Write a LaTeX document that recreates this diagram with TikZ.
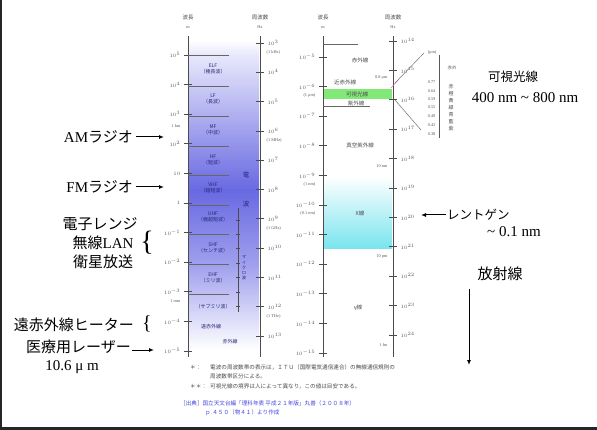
\documentclass[tikz,border=0pt]{standalone}
\usepackage{fontspec}
\setmainfont{Liberation Serif}
\newfontfamily\jp{Noto Sans CJK JP}
\usetikzlibrary{arrows.meta}
\definecolor{bandblue}{RGB}{40,40,120}
\definecolor{bluedark}{RGB}{105,105,226}
\definecolor{bluemid}{RGB}{160,160,238}
\definecolor{bluelight}{RGB}{232,232,252}
\definecolor{cyanC}{RGB}{20,218,232}
\definecolor{cyanB}{RGB}{120,228,238}
\definecolor{greenband}{RGB}{130,232,120}
\definecolor{footblue}{RGB}{70,70,225}
\begin{document}
\begin{tikzpicture}[x=1pt,y=-1pt,
  tk/.style={font=\fontsize{4.3}{5}\selectfont, text=black!65, inner sep=0.5pt},
  tkj/.style={font=\jp\fontsize{4.3}{5}\selectfont, text=black!65, inner sep=0.5pt},
  hdr/.style={font=\jp\fontsize{5.5}{6}\selectfont, text=black!70, inner sep=0},
  axisline/.style={line width=1pt, draw=black!70},
  tick/.style={line width=0.6pt, draw=black!70},
  sep/.style={line width=0.5pt, draw=black!60},
  band/.style={font=\jp\fontsize{5}{6}\selectfont, text=bandblue, inner sep=0, align=center},
  rband/.style={font=\jp\fontsize{5.5}{6}\selectfont, text=black!70, inner sep=0},
  lab/.style={font=\fontsize{15}{17}\selectfont, inner sep=1pt},
  rlab/.style={font=\fontsize{12.5}{15}\selectfont, inner sep=1pt},
  rlat/.style={font=\fontsize{15}{17}\selectfont, inner sep=1pt},
  arr/.style={-{Latex[length=5pt,width=4pt]}, line width=1pt},
  foot/.style={font=\jp\fontsize{5.6}{6}\selectfont, text=black!70, inner sep=0, anchor=west},
  footb/.style={font=\jp\fontsize{5.6}{6}\selectfont, text=footblue, inner sep=0, anchor=west}]
\useasboundingbox (0,0) rectangle (597,430);
\fill[white] (0,0) rectangle (597,430);
% frame
\draw[line width=1.5pt, black!85] (0.75,0) -- (0.75,430);
\draw[line width=3pt, black!85] (0,428.5) -- (597,428.5);

% ---------- left column: radio waves ----------
\shade[top color=white, bottom color=bluelight] (189,40) rectangle (259,55);
\shade[top color=bluelight, bottom color=bluedark] (189,55) rectangle (259,190);
\shade[top color=bluedark, bottom color=bluemid] (189,190) rectangle (259,265);
\shade[top color=bluemid, bottom color=white] (189,265) rectangle (259,350);

\node[hdr] (h1) at (188,17) {波長};
\node[tk] (h1u) at (188,27) {m};
\node[hdr] (h2) at (260,17) {周波数};
\node[tk] (h2u) at (260,27) {Hz};
\draw[axisline] (188,36) -- (188,357);
\draw[axisline] (260,36) -- (260,357);

\foreach \e [count=\i from 0] in {10^{5},10^{4},10^{3},10^{2},10,1,10^{-1},10^{-2},10^{-3},10^{-4},10^{-5}}{
  \draw[tick] (184,55+29.6*\i) -- (192,55+29.6*\i);
  \node[tk, anchor=east] at (181,55+29.6*\i) {$\e$};
}
\node[tk, anchor=east] at (181,126) {1 km};
\node[tk, anchor=east] at (181,301) {1 mm};
\foreach \e [count=\i from 0] in {10^{3},10^{4},10^{5},10^{6},10^{7},10^{8},10^{9},10^{10},10^{11},10^{12},10^{13}}{
  \draw[tick] (256,43+29.3*\i) -- (264,43+29.3*\i);
  \node[tk, anchor=west] at (267,43+29.3*\i) {$\e$};
}
\node[tk, anchor=west] at (266,52) {(1 kHz)};
\node[tk, anchor=west] at (266,140) {(1 MHz)};
\node[tk, anchor=west] at (266,228) {(1 GHz)};
\node[tk, anchor=west] at (266,316) {(1 THz)};

\foreach \y in {55,86.6,116.2,145.8,175.4,205,234.6,264.2,293.8}{
  \draw[sep] (188,\y) -- (229,\y);
}
\node[band] (elf) at (213,69) {ELF\\（極長波）};
\node[band] (lf) at (213,99) {LF\\（長波）};
\node[band] (mf) at (213,130) {MF\\（中波）};
\node[band] (hf) at (213,160) {HF\\（短波）};
\node[band] (vhf) at (213,188) {VHF\\（超短波）};
\node[band] (uhf) at (213,217) {UHF\\（極超短波）};
\node[band] (shf) at (213,248) {SHF\\（センチ波）};
\node[band] (ehf) at (213,278) {EHF\\（ミリ波）};
\node[band] (smm) at (213,307) {（サブミリ波）};
\node[band] (fir) at (211,327) {遠赤外線};
\node[band] (ir) at (230,342) {赤外線};
\node[font=\jp\fontsize{6.5}{7}\selectfont, text=bandblue, inner sep=0] (den) at (246,175) {電};
\node[font=\jp\fontsize{6.5}{7}\selectfont, text=bandblue, inner sep=0] (pa) at (246,204) {波};
\draw[line width=0.6pt, black!70] (238,208) -- (238,312);
\foreach \y in {220,234,248,263,277,292,306}{\draw[line width=0.5pt, black!70] (236,\y) -- (240,\y);}
\node[font=\jp\fontsize{4.3}{5.2}\selectfont, text=bandblue, inner sep=0, align=center] (mw) at (244,268) {マ\\イ\\ク\\ロ\\波};

% ---------- right column: light, X-rays ----------
\shade[top color=white, middle color=cyanC, bottom color=cyanB] (324,176) rectangle (392,249);
\fill[greenband] (324,89) rectangle (392,99);

\node[hdr] (h3) at (323,17) {波長};
\node[tk] (h3u) at (323,27) {m};
\node[hdr] (h4) at (393,17) {周波数};
\node[tk] (h4u) at (393,27) {Hz};
\draw[axisline] (323,36) -- (323,357);
\draw[axisline] (393,36) -- (393,357);

\foreach \e [count=\i from 0] in {10^{-5},10^{-6},10^{-7},10^{-8},10^{-9},10^{-10},10^{-11},10^{-12},10^{-13},10^{-14},10^{-15}}{
  \draw[tick] (319,57+29.6*\i) -- (327,57+29.6*\i);
  \node[tk, anchor=east] at (316,57+29.6*\i) {$\e$};
}
\node[tk, anchor=east] at (316,95) {(1 μm)};
\node[tk, anchor=east] at (316,184) {(1 nm)};
\node[tk, anchor=east] at (316,213) {(0.1 nm)};
\foreach \e [count=\i from 0] in {10^{14},10^{15},10^{16},10^{17},10^{18},10^{19},10^{20},10^{21},10^{22},10^{23},10^{24}}{
  \draw[tick] (389,41+29.4*\i) -- (397,41+29.4*\i);
  \node[tk, anchor=west] at (400,41+29.4*\i) {$\e$};
}
\draw[sep] (323,44) -- (358,44);
\draw[sep] (323,106) -- (370,106);
\node[rband] (irr) at (360,60) {赤外線};
\node[rband] (nir) at (345,82) {近赤外線};
\node[rband] (vis) at (357,94) {可視光線};
\node[rband] (uv) at (356,103) {紫外線};
\node[rband] (vuv) at (360,145) {真空紫外線};
\node[rband] (xr) at (360,213) {X線};
\node[rband] (gam) at (358,308) {γ線};
\node[tk, anchor=east] at (388,78) {0.8 μm};
\node[tk, anchor=east] at (388,166) {10 nm};
\node[tk, anchor=east] at (388,257) {10 pm};
\node[tk, anchor=east] at (388,345) {1 fm};
\draw[magenta!60, line width=0.5pt] (391,88) -- (399,79);

% visible spectrum inset
\draw[black!55, line width=0.5pt] (395,83) -- (424,53);
\draw[black!55, line width=0.5pt] (395,100) -- (421,130);
\draw[black!65, line width=0.7pt] (439,55) -- (439,138);
\node[tk, anchor=east] at (437,52) {(μm)};
\foreach \v/\y in {0.77/82,0.64/91,0.59/99,0.55/107,0.49/116,0.43/125,0.38/134}{
  \node[tk, anchor=east] at (436,\y) {\v};
}
\node[tkj, anchor=west] at (447,68) {赤外};
\foreach \c/\y in {赤/87,橙/94,黄/101,緑/108,青/115,藍/122,紫/129}{
  \node[font=\jp\fontsize{5}{5}\selectfont, text=black!70, inner sep=0] at (451,\y) {\c};
}

% footnotes
\node[foot] (f1s) at (190,367) {＊：};
\node[foot] (f1) at (210,367) {電波の周波数帯の表示は，ＩＴＵ（国際電気通信連合）の無線通信規則の};
\node[foot] (f2) at (210,376) {周波数帯区分による。};
\node[foot] (f3s) at (190,386) {＊＊：};
\node[foot] (f3) at (210,386) {可視光線の境界は人によって異なり，この値は目安である。};
\node[footb] (f4) at (180,403) {［出典］国立天文台編「理科年表 平成２１年版」丸善（２００８年）};
\node[footb] (f5) at (205,413) {ｐ.４５０（物４１）より作成};

% ---------- annotations left ----------
\node[lab, anchor=east] (am) at (134,137) {AM{\jp ラジオ}};
\coordinate (amT) at (164,137);
\draw[arr] (am.east) ++(2,0) -- (amT);
\node[lab, anchor=east] (fm) at (134,187) {FM{\jp ラジオ}};
\coordinate (fmT) at (164,187);
\draw[arr] (fm.east) ++(2,0) -- (fmT);
\node[lab, align=center] (mw1) at (100,224) {\jp 電子レンジ};
\node[lab, align=center] (mw2) at (103,243) {{\jp 無線}LAN};
\node[lab, align=center] (mw3) at (103,262) {\jp 衛星放送};
\node[font=\fontsize{28}{28}\selectfont, inner sep=0] (br1) at (147,243) {\{};
\node[lab, anchor=east] (fir2) at (135,325) {\jp 遠赤外線ヒーター};
\node[font=\fontsize{20}{20}\selectfont, inner sep=0] (br2) at (147,324) {\{};
\node[lab, anchor=east] (las) at (132,347) {\jp 医療用レーザー};
\coordinate (lasT) at (154,350);
\draw[arr] (las.east |- lasT) -- (lasT);
\node[lab] (las2) at (72,367) {10.6 μ m};

% ---------- annotations right ----------
\node[rlab] (visl) at (513,77) {\jp 可視光線};
\node[rlat] (visr) at (525,98) {400 nm \textasciitilde\ 800 nm};
\node[rlab, anchor=west] (xray) at (446,215) {\jp レントゲン};
\coordinate (xrT) at (421,215);
\draw[arr] (xray.west) -- (xrT);
\node[rlat] (xray2) at (514,232) {\textasciitilde\ 0.1 nm};
\node[lab] (rad) at (500,274) {\jp 放射線};
\coordinate (radS) at (469,289);
\coordinate (radT) at (469,365);
\draw[arr] (radS) -- (radT);
\end{tikzpicture}
\end{document}
